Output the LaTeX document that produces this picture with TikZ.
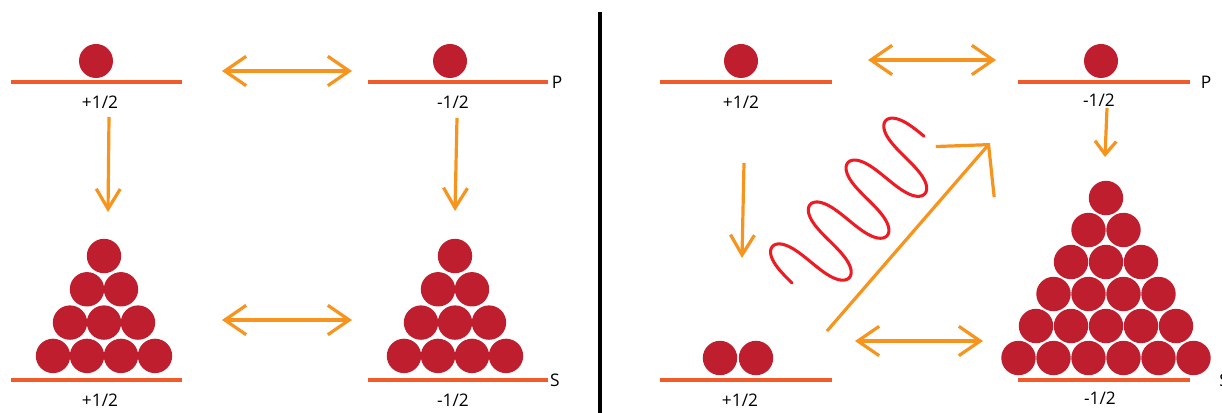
\documentclass[tikz,border=0pt]{standalone}
\usepackage{fontspec}
\setmainfont{Open Sans}
\usetikzlibrary{arrows.meta}

\definecolor{ballred}{RGB}{190,30,45}
\definecolor{levelorange}{RGB}{241,90,41}
\definecolor{arroworange}{RGB}{247,148,29}
\definecolor{wavered}{RGB}{237,28,36}

\tikzset{
  level/.style={draw=levelorange, line width=3pt},
  ball/.style={fill=ballred},
  drop/.style={draw=arroworange, line width=2.4pt, -{Straight Barb[length=15pt, width=18pt]}},
  swap/.style={draw=arroworange, line width=2.4pt, {Straight Barb[length=16pt, width=22pt]}-{Straight Barb[length=16pt, width=22pt]}},
  spin/.style={font=\fontsize{13}{15}\selectfont, inner sep=0pt},
  wave/.style={draw=wavered, line width=2.3pt},
}

\begin{document}
\begin{tikzpicture}[x=0.75pt, y=-0.75pt,
    % photon: u along the pumping direction, n across it
    declare function={wu(\t)=0.15673*\t - 3.6*sin(2*\t); wn(\t)=-39*sin(\t);}]
  \clip (0,0) rectangle (1222,413);

  % Divider
  \draw [line width=2.3pt, black] (600,12) -- (600,413);

  % Levels, left panel
  \draw [level] (11,82) -- (182,82);
  \draw [level] (368,82) -- (548,82);
  \draw [level] (11,380) -- (182,380);
  \draw [level] (368,380) -- (548,380);

  % Levels, right panel
  \draw [level] (660,82) -- (832,82);
  \draw [level] (1018,82) -- (1190,82);
  \draw [level] (660,380) -- (832,380);
  \draw [level] (1018,380) -- (1190,380);

  % Spin labels
  \node [spin] (lpu) at (100,102) {+1/2};
  \node [spin] (lpd) at (453,102) {-1/2};
  \node [spin] (lsu) at (100,400) {+1/2};
  \node [spin] (lsd) at (453,400) {-1/2};
  \node [spin] (rpu) at (741,102) {+1/2};
  \node [spin] (rpd) at (1099,100) {-1/2};
  \node [spin] (rsu) at (740,400) {+1/2};
  \node [spin] (rsd) at (1100,398) {-1/2};
  \node [spin] (lP) at (557,82) {P};
  \node [spin] (lS) at (555,380) {S};
  \node [spin] (rP) at (1206,82) {P};
  \node [spin] (rS) at (1224,380) {S};

  % Single balls in P
  \fill [ball] (96,61) circle [radius=12.75pt];
  \fill [ball] (450,61) circle [radius=12.75pt];
  \fill [ball] (741,61) circle [radius=12.75pt];
  \fill [ball] (1101,61) circle [radius=12.75pt];

  % Pyramids in S, left panel
  % \r is the row, \k the ball in that row
  \foreach \cx in {104, 455} {
    \foreach \r in {1,...,4} {
      \foreach \k in {1,...,\r} {
        \pgfmathsetmacro\bx{\cx + (\k - (\r+1)/2)*34}
        \pgfmathsetmacro\by{256 + (\r-1)*33.3}
        \fill [ball] (\bx,\by) circle [radius=12.9pt];
      }
    }
  }

  % Two balls left over
  \fill [ball] (720,358) circle [radius=12.9pt];
  \fill [ball] (756,358) circle [radius=12.9pt];

  % Big pyramid in S, right panel
  \foreach \r in {1,...,6} {
    \foreach \k in {1,...,\r} {
      \pgfmathsetmacro\bx{1106 + (\k - (\r+1)/2)*35}
      \pgfmathsetmacro\by{198 + (\r-1)*32}
      \fill [ball] (\bx,\by) circle [radius=12.9pt];
    }
  }

  % Exchange arrows
  \coordinate (a1) at (222,71);  \coordinate (b1) at (352,71);
  \coordinate (a2) at (222,320); \coordinate (b2) at (352,320);
  \coordinate (a3) at (868,60);  \coordinate (b3) at (996,60);
  \coordinate (a4) at (855,341); \coordinate (b4) at (983,341);
  \draw [swap] (a1) -- (b1);
  \draw [swap] (a2) -- (b2);
  \draw [swap] (a3) -- (b3);
  \draw [swap] (a4) -- (b4);

  % Relaxation arrows
  \coordinate (c1) at (109,117); \coordinate (d1) at (108,212);
  \coordinate (c2) at (457,118); \coordinate (d2) at (455,211);
  \coordinate (c3) at (744,163); \coordinate (d3) at (742,258);
  \coordinate (c4) at (1107,108); \coordinate (d4) at (1105,157);
  \draw [drop] (c1) -- (d1);
  \draw [drop] (c2) -- (d2);
  \draw [drop] (c3) -- (d3);
  \draw [drop, -{Straight Barb[length=10pt, width=16pt]}] (c4) -- (d4);

  % Pumping arrow
  \coordinate (pump0) at (827,331);
  \coordinate (pump1) at (990,143);
  \draw [draw=arroworange, line width=2.4pt, -{Straight Barb[length=27pt, width=58pt]}] (pump0) -- (pump1);

  % Photon, 3.5 periods (0 to 1260 degrees)
  \draw [wave, line cap=round] plot [domain=0:1260, samples=300]
    ({792 + 0.669*wu(\x) + 0.743*wn(\x)},
     {283 - 0.743*wu(\x) + 0.669*wn(\x)});

\end{tikzpicture}
\end{document}
